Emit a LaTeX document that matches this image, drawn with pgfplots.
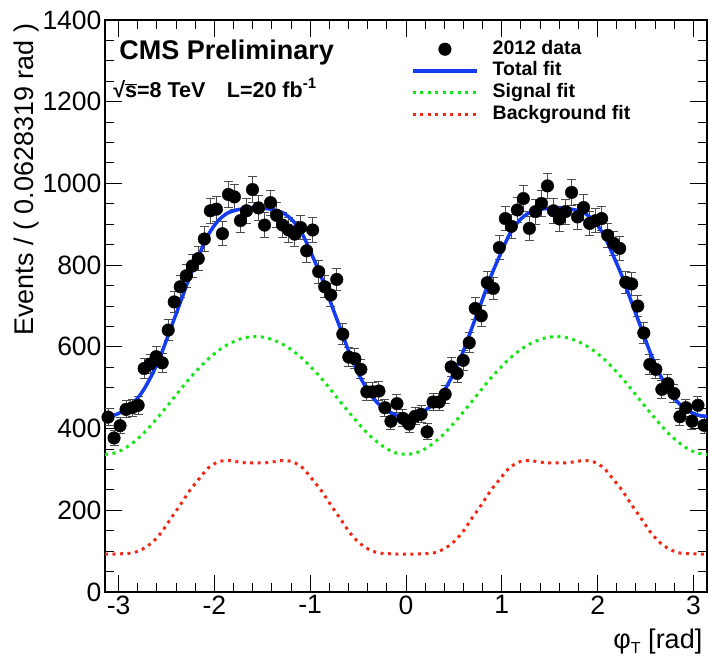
\documentclass[border=0pt]{standalone}
\usepackage{fontspec}
\setmainfont{Liberation Sans}
\usepackage{pgfplots}
\pgfplotsset{compat=1.18}
\usepackage{pgfplotstable}
\definecolor{fitblue}{RGB}{20,60,240}
\definecolor{siggreen}{RGB}{20,230,20}
\definecolor{bkgred}{RGB}{240,40,20}
\pgfplotsset{
  datalegend/.style={legend image code/.code={\draw[##1, mark repeat=2, mark phase=2] plot coordinates {(0pt,0pt) (32pt,0pt) (64pt,0pt)};}},
  linelegend/.style={legend image code/.code={\draw[##1] (0pt,0pt) -- (64pt,0pt);}},
}

\pgfplotstableread{
x tot sig bkg
-3.1416 430 337 93
-3.0434 433 340 93
-2.9452 444 350 94
-2.8471 462 366 96
-2.7489 491 386 105
-2.6507 532 411 121
-2.5525 584 438 146
-2.4544 646 466 180
-2.3562 708 495 213
-2.2580 771 523 248
-2.1598 825 548 277
-2.0617 875 571 304
-1.9635 908 590 318
-1.8653 927 605 322
-1.7671 935 616 319
-1.6690 939 623 316
-1.5708 941 625 316
-1.4726 939 623 316
-1.3744 935 616 319
-1.2763 927 605 322
-1.1781 908 590 318
-1.0799 875 571 304
-0.9817 825 548 277
-0.8836 771 523 248
-0.7854 708 495 213
-0.6872 646 466 180
-0.5890 584 438 146
-0.4909 532 411 121
-0.3927 491 386 105
-0.2945 462 366 96
-0.1963 444 350 94
-0.0982 433 340 93
0.0000 430 337 93
0.0982 433 340 93
0.1963 444 350 94
0.2945 462 366 96
0.3927 491 386 105
0.4909 532 411 121
0.5890 584 438 146
0.6872 646 466 180
0.7854 708 495 213
0.8836 771 523 248
0.9817 825 548 277
1.0799 875 571 304
1.1781 908 590 318
1.2763 927 605 322
1.3744 935 616 319
1.4726 939 623 316
1.5708 941 625 316
1.6690 939 623 316
1.7671 935 616 319
1.8653 927 605 322
1.9635 908 590 318
2.0617 875 571 304
2.1598 825 548 277
2.2580 771 523 248
2.3562 708 495 213
2.4544 646 466 180
2.5525 584 438 146
2.6507 532 411 121
2.7489 491 386 105
2.8471 462 366 96
2.9452 444 350 94
3.0434 433 340 93
3.1416 430 337 93
}\fits

\pgfplotstableread{
x y e
-3.1102 428 20.7
-3.0473 377 19.4
-2.9845 407 20.2
-2.9217 447 21.1
-2.8588 451 21.2
-2.7960 457 21.4
-2.7332 547 23.4
-2.6704 558 23.6
-2.6075 576 24.0
-2.5447 561 23.7
-2.4819 641 25.3
-2.4190 710 26.6
-2.3562 747 27.3
-2.2934 774 27.8
-2.2305 798 28.2
-2.1677 816 28.6
-2.1049 864 29.4
-2.0420 933 30.5
-1.9792 937 30.6
-1.9164 877 29.6
-1.8535 973 31.2
-1.7907 967 31.1
-1.7279 909 30.1
-1.6650 933 30.5
-1.6022 985 31.4
-1.5394 940 30.7
-1.4765 898 30.0
-1.4137 953 30.9
-1.3509 922 30.4
-1.2881 898 30.0
-1.2252 886 29.8
-1.1624 876 29.6
-1.0996 892 29.9
-1.0367 835 28.9
-0.9739 886 29.8
-0.9111 784 28.0
-0.8482 747 27.3
-0.7854 727 27.0
-0.7226 765 27.7
-0.6597 631 25.1
-0.5969 575 24.0
-0.5341 571 23.9
-0.4712 545 23.3
-0.4084 490 22.1
-0.3456 490 22.1
-0.2827 492 22.2
-0.2199 451 21.2
-0.1571 418 20.4
-0.0942 461 21.5
-0.0314 425 20.6
0.0314 411 20.3
0.0942 430 20.7
0.1571 435 20.9
0.2199 392 19.8
0.2827 465 21.6
0.3456 465 21.6
0.4084 484 22.0
0.4712 551 23.5
0.5341 535 23.1
0.5969 567 23.8
0.6597 610 24.7
0.7226 694 26.3
0.7854 676 26.0
0.8482 757 27.5
0.9111 743 27.3
0.9739 843 29.0
1.0367 914 30.2
1.0996 895 29.9
1.1624 935 30.6
1.2252 963 31.0
1.2881 890 29.8
1.3509 931 30.5
1.4137 951 30.8
1.4765 994 31.5
1.5394 933 30.5
1.6022 913 30.2
1.6650 931 30.5
1.7279 978 31.3
1.7907 918 30.3
1.8535 941 30.7
1.9164 902 30.0
1.9792 909 30.1
2.0420 914 30.2
2.1049 873 29.5
2.1677 853 29.2
2.2305 841 29.0
2.2934 758 27.5
2.3562 754 27.5
2.4190 700 26.5
2.4819 634 25.2
2.5447 557 23.6
2.6075 545 23.3
2.6704 496 22.3
2.7332 510 22.6
2.7960 486 22.0
2.8588 429 20.7
2.9217 451 21.2
2.9845 418 20.4
3.0473 457 21.4
3.1102 408 20.2
}\data

\begin{document}
\begin{tikzpicture}
\useasboundingbox (-105pt,-67pt) rectangle (603pt,592pt);
\begin{axis}[
  scale only axis, width=602pt, height=572pt,
  xmin=-3.14159, xmax=3.14159, ymin=0, ymax=1400,
  xtick={-3,...,3}, minor x tick num=4,
  ytick={0,200,...,1400}, minor y tick num=3,
  tick align=inside, major tick length=17pt, minor tick length=9pt,
  axis line style={line width=1.2pt},
  every tick/.style={line width=1pt, black},
  tick label style={font=\fontsize{26.5}{30}\selectfont},
  /pgf/number format/assume math mode=true,
  /pgf/number format/1000 sep={},
  xlabel={φ\raisebox{-0.35ex}{\fontsize{16}{16}\selectfont T} [rad]},
  ylabel={Events / ( 0.0628319 rad )},
  label style={font=\fontsize{27}{30}\selectfont},
  xlabel style={at={(rel axis cs:0.998,-0.0874)}, anchor=east},
  ylabel style={at={(rel axis cs:-0.1296,1)}, anchor=east},
  legend style={at={(rel axis cs:0.5033,0.9685)}, anchor=north west,
    draw=none, fill=none, font=\bfseries\fontsize{19.5}{22}\selectfont,
    row sep=3.7pt, column sep=14pt,
    nodes={inner sep=0pt, text height=14pt, text depth=4pt}},
  legend cell align=left,
  linelegend,
]
\addlegendimage{only marks, mark=*, mark size=6.3pt, black, datalegend}
\addlegendentry{2012 data}
\addlegendimage{fitblue, line width=3.5pt, linelegend}
\addlegendentry{Total fit}
\addlegendimage{siggreen, line width=3pt, dash pattern=on 3pt off 4.5pt, linelegend}
\addlegendentry{Signal fit}
\addlegendimage{bkgred, line width=3pt, dash pattern=on 3pt off 4.5pt, linelegend}
\addlegendentry{Background fit}

\addplot[bkgred, line width=3pt, dash pattern=on 3pt off 4.5pt, smooth, no marks, forget plot] table[x=x, y=bkg] {\fits};
\addplot[siggreen, line width=3pt, dash pattern=on 3pt off 4.5pt, smooth, no marks, forget plot] table[x=x, y=sig] {\fits};
\addplot[only marks, mark=*, mark size=6.3pt, black, forget plot,
  error bars/.cd, y dir=both, y explicit,
  error bar style={line width=1pt, black!70},
  error mark options={rotate=90, mark size=4.5pt, line width=1pt, black!70}]
  table[x=x, y=y, y error=e] {\data};
\addplot[fitblue, line width=3.5pt, smooth, no marks, forget plot] table[x=x, y=tot] {\fits};

\node[anchor=west, font=\bfseries\fontsize{27}{30}\selectfont] at (rel axis cs:0.018,0.944) {CMS Preliminary};
\node[anchor=west, font=\bfseries\fontsize{21.5}{24}\selectfont] at (rel axis cs:0.008,0.881) {√$\overline{\hbox{s}}$=8 TeV\quad L=20 fb\raisebox{0.8ex}{\fontsize{15}{15}\selectfont -1}};
\end{axis}
\end{tikzpicture}
\end{document}
